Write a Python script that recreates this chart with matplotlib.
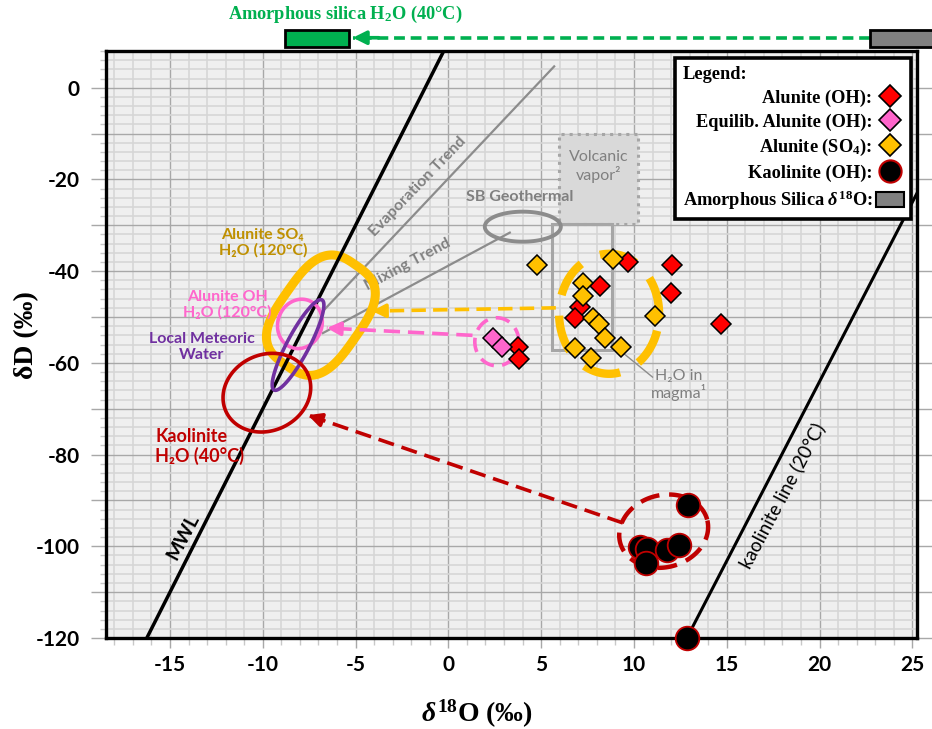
import numpy as np
import matplotlib
matplotlib.use("Agg")
import matplotlib.pyplot as plt
from matplotlib.patches import Polygon, Rectangle, Patch
from matplotlib.lines import Line2D
from matplotlib.transforms import ScaledTranslation
from matplotlib.ticker import MultipleLocator, FuncFormatter

plt.rcParams["font.family"] = ["Lato", "DejaVu Sans"]
plt.rcParams["axes.unicode_minus"] = False
plt.rcParams["mathtext.fontset"] = "custom"
plt.rcParams["mathtext.rm"] = "Liberation Serif:bold"
plt.rcParams["mathtext.it"] = "Liberation Serif:italic:bold"
plt.rcParams["mathtext.bf"] = "Liberation Serif:bold"

SERIF = ["Liberation Serif", "DejaVu Serif"]

# measured isotope values (d18O, dD in permil)
alunite_oh_d18o = [9.67, 8.16, 12.04, 11.99, 14.68, 7.09, 6.82, 3.74, 3.80]
alunite_oh_dd = [-38.0, -43.2, -38.6, -44.7, -51.5, -47.8, -50.2, -56.5, -59.1]

equil_oh_d18o = [2.40, 2.88]
equil_oh_dd = [-54.5, -56.5]

alunite_so4_d18o = [4.77, 8.86, 7.25, 7.25, 7.79, 8.11, 11.13, 8.43, 9.29, 6.82, 7.68]
alunite_so4_dd = [-38.6, -37.3, -42.5, -45.4, -50.2, -51.5, -49.7, -54.5, -56.5, -56.7, -58.9]

kaolinite_d18o = [12.91, 10.32, 10.70, 10.64, 11.77, 12.42, 12.85]
kaolinite_dd = [-91.0, -100.2, -100.6, -103.6, -100.8, -99.7, -120.0]

# reference lines
mwl_d18o = [-16.25, -0.25]
mwl_dd = [-120.0, 8.0]
kaol_line_d18o = [12.85, 25.25]
kaol_line_dd = [-120.0, -23.0]
evap_d18o = [-6.8, 5.70]
evap_dd = [-48.9, 4.65]
mixing_d18o = [-6.76, 3.31]
mixing_dd = [-53.5, -31.6]

# arrows: (start, end)
so4_arrow_d18o = [5.79, -4.12]
so4_arrow_dd = [-48.0, -48.7]
oh_arrow_d18o = [1.30, -6.55]
oh_arrow_dd = [-54.0, -52.4]
kaol_arrow_d18o = [9.40, -7.57]
kaol_arrow_dd = [-94.9, -71.4]
silica_arrow_d18o = [22.7, -5.15]
silica_arrow_dd = [10.9, 10.9]

fig = plt.figure(figsize=(9.32, 7.29), dpi=100)
ax = fig.add_axes([0.1137, 0.1248, 0.8702, 0.8052])
ax.set_xlim(-18.45, 25.25)
ax.set_ylim(-120, 8)
ax.set_facecolor("#EFEFEF")

ax.xaxis.set_major_locator(MultipleLocator(5))
ax.xaxis.set_minor_locator(MultipleLocator(1))
ax.yaxis.set_major_locator(MultipleLocator(10))
ax.yaxis.set_minor_locator(MultipleLocator(2))
ax.yaxis.set_major_formatter(FuncFormatter(lambda v, p: "%d" % v if round(v) % 20 == 0 else ""))
ax.xaxis.set_major_formatter(FuncFormatter(lambda v, p: "%d" % v))
ax.grid(which="major", color="#A8A8A8", lw=1.0)
ax.grid(which="minor", color="#D6D6D6", lw=1.2)
ax.set_axisbelow(True)

ax.tick_params(axis="y", which="major", direction="out", length=11, width=1,
               color="#A8A8A8", pad=8, right=True, labelsize=15)
ax.tick_params(axis="y", which="minor", direction="out", length=4, width=1,
               color="#C8C8C8")
ax.tick_params(axis="x", which="major", direction="out", length=7, width=1,
               color="#A8A8A8", pad=5, labelsize=15)
ax.tick_params(axis="x", which="minor", direction="out", length=5, width=1,
               color="#C8C8C8")
for lab in ax.get_xticklabels() + ax.get_yticklabels():
    lab.set_fontweight("bold")
for sp in ax.spines.values():
    sp.set_linewidth(2.4)
    sp.set_color("black")
    sp.set_zorder(8)


def ring(cx, cy, a, b, ang, n=2.0, **kw):
    # closed curve sized in screen pixels, anchored at a data point
    t = np.linspace(0, 2 * np.pi, 400)
    c, s = np.cos(t), np.sin(t)
    u = a / 100 * np.sign(c) * np.abs(c) ** (2 / n)
    v = b / 100 * np.sign(s) * np.abs(s) ** (2 / n)
    r = np.deg2rad(ang)
    pts = np.column_stack([u * np.cos(r) - v * np.sin(r), u * np.sin(r) + v * np.cos(r)])
    tr = fig.dpi_scale_trans + ScaledTranslation(cx, cy, ax.transData)
    ax.add_patch(Polygon(pts, closed=True, fill=False, transform=tr, **kw))


def dashed_arrow(xs, ys, color, lw, dash, clip=True):
    ax.plot(xs, ys, color=color, lw=lw, ls=(0, dash), dash_capstyle="butt",
            clip_on=clip, zorder=4)
    tail = (xs[1] + 0.05 * (xs[0] - xs[1]), ys[1] + 0.05 * (ys[0] - ys[1]))
    ax.annotate("", xy=(xs[1], ys[1]), xytext=tail, annotation_clip=False,
                arrowprops=dict(arrowstyle="-|>,head_length=0.8,head_width=0.4",
                                color=color, lw=lw, shrinkA=0, shrinkB=0),
                zorder=4)


# volcanic vapour and magmatic water fields
ax.add_patch(Rectangle((5.95, -29.7), 4.25, 19.7, facecolor="#D9D9D9",
                       edgecolor="#A6A6A6", lw=2.2, ls=":", zorder=2))
ax.add_patch(Rectangle((5.6, -57.2), 3.23, 27.5, fill=False,
                       edgecolor="#A6A6A6", lw=2.2, zorder=2))
ax.text(8.08, -17.2, "Volcanic\nvapor²", ha="center", va="center", fontsize=11.5,
        color="#7F7F7F", linespacing=1.1, zorder=6)
ax.plot([9.4, 11.0], [-57.8, -63.1], color="#8C8C8C", lw=1, zorder=2)
ax.text(12.4, -64.8, "H₂O in\nmagma¹", ha="center", va="center", fontsize=11.5,
        color="#7F7F7F", linespacing=1.1, zorder=6)

# trend lines
ax.plot(evap_d18o, evap_dd, color="#8C8C8C", lw=1.6, zorder=2)
ax.plot(mixing_d18o, mixing_dd, color="#8C8C8C", lw=1.6, zorder=2)
ring(4.01, -30.3, 38, 15, 0, ec="#8C8C8C", lw=2.8, zorder=2)

# fluid fields
ring(-6.87, -49.6, 61, 41, 55, n=3, ec="#FFC000", lw=6.5, zorder=3)
ax.plot(mwl_d18o, mwl_dd, color="black", lw=2.5, zorder=3.5)
ax.plot(kaol_line_d18o, kaol_line_dd, color="black", lw=2.2, zorder=3.5)
ring(-8.0, -51.5, 25, 22, 70, ec="#FF66CC", lw=2.6, zorder=4)
ring(-8.1, -56.1, 51, 11, 62, ec="#7030A0", lw=2.6, zorder=4)
ring(-9.78, -66.5, 45, 38, 25, ec="#C00000", lw=2.6, zorder=4)

# sample groupings
ring(8.66, -49.3, 50, 60, 0, ec="#FFC000", lw=6, ls=(0, (4.5, 2.5)), zorder=3)
ring(2.61, -55.4, 22, 24, 0, ec="#FF66CC", lw=2.6, ls=(0, (4, 2.3)), zorder=3)
ring(11.6, -96.7, 45, 36, 15, ec="#C00000", lw=3.2, ls=(0, (4.4, 2.2)), zorder=3)

dashed_arrow(so4_arrow_d18o, so4_arrow_dd, "#FFC000", 2.6, (4, 2))
dashed_arrow(oh_arrow_d18o, oh_arrow_dd, "#FF66CC", 2.6, (4.5, 2.2))
dashed_arrow(kaol_arrow_d18o, kaol_arrow_dd, "#C00000", 2.6, (4.5, 2.2))

# samples
ax.plot(alunite_oh_d18o, alunite_oh_dd, ls="none", marker="D", ms=10.5,
        mfc="#FF0000", mec="black", mew=1.1, zorder=5)
ax.plot(equil_oh_d18o, equil_oh_dd, ls="none", marker="D", ms=10.5,
        mfc="#FF66CC", mec="black", mew=1.1, zorder=5)
ax.plot(alunite_so4_d18o, alunite_so4_dd, ls="none", marker="D", ms=10.5,
        mfc="#FFC000", mec="black", mew=1.1, zorder=5)
ax.plot(kaolinite_d18o, kaolinite_dd, ls="none", marker="o", ms=17,
        mfc="black", mec="#C00000", mew=1.3, zorder=9, clip_on=False)

# labels
ax.text(-14.3, -98.0, "MWL", rotation=62, ha="center", va="center",
        fontsize=14, fontweight="bold", zorder=6)
ax.text(18.0, -89.0, "kaolinite line (20°C)", rotation=62, ha="center",
        va="center", fontsize=13.5, zorder=6)
ax.text(-1.64, -21.6, "Evaporation Trend", rotation=46, ha="center", va="center",
        fontsize=11.5, fontweight="bold", color="#808080", zorder=6)
ax.text(-2.2, -38.6, "Mixing Trend", rotation=28, ha="center", va="center",
        fontsize=11.5, fontweight="bold", color="#808080", zorder=2.5)
ax.text(3.85, -23.8, "SB Geothermal", ha="center", va="center",
        fontsize=11.5, fontweight="bold", color="#808080", zorder=6)
ax.text(-10.0, -33.8, "Alunite SO₄\nH₂O (120°C)", ha="center", va="center",
        fontsize=11.5, fontweight="bold", color="#BF9000", linespacing=1.1, zorder=6)
ax.text(-11.9, -47.4, "Alunite OH\nH₂O (120°C)", ha="center", va="center",
        fontsize=11.5, fontweight="bold", color="#FF66CC", linespacing=1.1, zorder=6)
ax.text(-13.3, -56.5, "Local Meteoric\nWater", ha="center", va="center",
        fontsize=11.5, fontweight="bold", color="#7030A0", linespacing=1.15, zorder=6)
ax.text(-15.8, -78.3, "Kaolinite\nH₂O (40°C)", ha="left", va="center",
        fontsize=13, fontweight="bold", color="#C00000", linespacing=1.15, zorder=6)

# amorphous silica shift above the plot
ax.add_patch(Rectangle((-8.81, 8.95), 3.45, 3.7, facecolor="#00B050",
                       edgecolor="black", lw=2, clip_on=False, zorder=6))
ax.add_patch(Rectangle((22.7, 8.95), 4.0, 3.7, facecolor="#808080",
                       edgecolor="black", lw=2, clip_on=False, zorder=6))
dashed_arrow(silica_arrow_d18o, silica_arrow_dd, "#00B050", 2.6, (3, 1.6), clip=False)
ax.text(-5.58, 15.9, r"Amorphous silica H$_{\mathrm{2}}$O (40°C)", ha="center",
        va="center", fontsize=13.2, fontweight="bold", color="#00B050",
        family=SERIF)

# legend
handles = [
    Line2D([], [], ls="none", marker="D", ms=11, mfc="#FF0000", mec="black", mew=1.2),
    Line2D([], [], ls="none", marker="D", ms=11, mfc="#FF66CC", mec="black", mew=1.2),
    Line2D([], [], ls="none", marker="D", ms=11, mfc="#FFC000", mec="black", mew=1.2),
    Line2D([], [], ls="none", marker="o", ms=16, mfc="black", mec="#C00000", mew=1.5),
    Patch(facecolor="#808080", edgecolor="black", lw=1.5),
]
labels = ["Alunite (OH):", "Equilib. Alunite (OH):", r"Alunite (SO$_{\mathrm{4}}$):",
          "Kaolinite (OH):", r"Amorphous Silica $\delta^{\mathrm{18}}$O:"]
leg_font = dict(family=SERIF, weight="bold", size=13.2)
leg = ax.legend(handles, labels, loc="upper right", bbox_to_anchor=(0.993, 0.988),
                borderaxespad=0, title="Legend:", alignment="left",
                markerfirst=False, prop=leg_font, title_fontproperties=leg_font,
                fancybox=False, framealpha=1, edgecolor="black",
                labelspacing=0.33, handletextpad=0.2, handlelength=1.5,
                handleheight=0.9, borderpad=0.42)
leg.get_frame().set_linewidth(2.6)
leg.set_zorder(10)

# axis titles
fig.text(27 / 932, 1 - 335 / 729, "δD (‰)", rotation=90, ha="center", va="center",
         fontsize=20, fontweight="bold", family=SERIF)
fig.text(477 / 932, 1 - 714 / 729, r"$\delta^{\mathrm{18}}$O (‰)", ha="center",
         va="center", fontsize=20, fontweight="bold", family=SERIF)

fig.savefig("out.png", dpi=100)
